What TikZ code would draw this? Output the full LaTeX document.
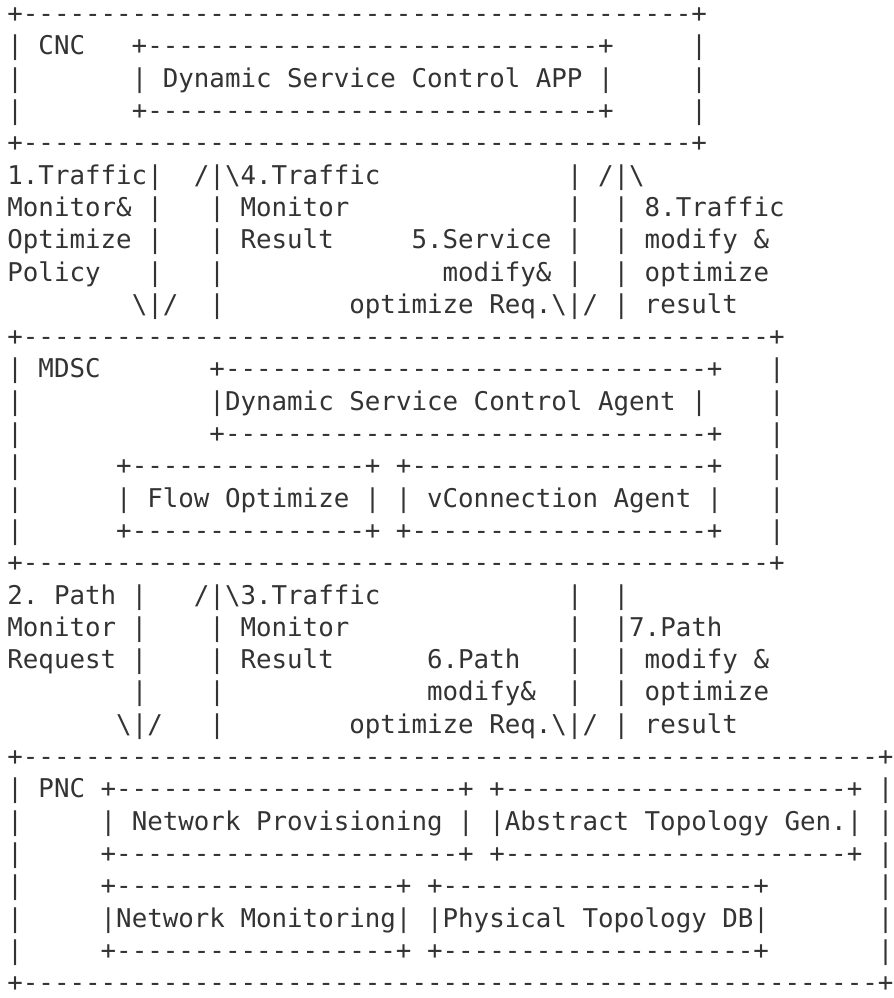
\documentclass[tikz,border=0pt]{standalone}
\usepackage{fontspec}
\setmonofont{DejaVu Sans Mono}
\definecolor{ink}{HTML}{333333}
{\obeyspaces\global\let =\space}
\newcommand\bs{\textbackslash}
\newcommand\dashrun[1]{\foreach\n in {1,...,#1}{-}}
\newcommand\pitch{16.15pt}
\newcommand\asciirow[1]{\begingroup\obeyspaces\asciirowtext{#1}}
\newcommand\asciirowtext[2]{\node[ascii] (row#1) at (3.5pt,{-11.3pt-(#1-1)*\pitch}) {\relax#2};\endgroup}
\tikzset{ascii/.style={anchor=base west, inner sep=0pt, text=ink,
    font=\ttfamily\fontsize{12.91pt}{16pt}\selectfont}}
\begin{document}
\begin{tikzpicture}
  \useasboundingbox (0,0) rectangle (447pt,-499pt);
  \asciirow{1}{+\dashrun{43}+}
  \asciirow{2}{| CNC   +\dashrun{29}+     |}
  \asciirow{3}{|       | Dynamic Service Control APP |     |}
  \asciirow{4}{|       +\dashrun{29}+     |}
  \asciirow{5}{+\dashrun{43}+}
  \asciirow{6}{1.Traffic|  /|\bs4.Traffic            | /|\bs}
  \asciirow{7}{Monitor\& |   | Monitor              |  | 8.Traffic}
  \asciirow{8}{Optimize |   | Result     5.Service |  | modify \&}
  \asciirow{9}{Policy   |   |              modify\& |  | optimize}
  \asciirow{10}{        \bs|/  |        optimize Req.\bs|/ | result}
  \asciirow{11}{+\dashrun{48}+}
  \asciirow{12}{| MDSC       +\dashrun{31}+   |}
  \asciirow{13}{|            |Dynamic Service Control Agent |    |}
  \asciirow{14}{|            +\dashrun{31}+   |}
  \asciirow{15}{|      +\dashrun{15}+ +\dashrun{19}+   |}
  \asciirow{16}{|      | Flow Optimize | | vConnection Agent |   |}
  \asciirow{17}{|      +\dashrun{15}+ +\dashrun{19}+   |}
  \asciirow{18}{+\dashrun{48}+}
  \asciirow{19}{2. Path |   /|\bs3.Traffic            |  |}
  \asciirow{20}{Monitor |    | Monitor              |  |7.Path}
  \asciirow{21}{Request |    | Result      6.Path   |  | modify \&}
  \asciirow{22}{        |    |             modify\&  |  | optimize}
  \asciirow{23}{       \bs|/   |        optimize Req.\bs|/ | result}
  \asciirow{24}{+\dashrun{55}+}
  \asciirow{25}{| PNC +\dashrun{22}+ +\dashrun{22}+ |}
  \asciirow{26}{|     | Network Provisioning | |Abstract Topology Gen.| |}
  \asciirow{27}{|     +\dashrun{22}+ +\dashrun{22}+ |}
  \asciirow{28}{|     +\dashrun{18}+ +\dashrun{20}+       |}
  \asciirow{29}{|     |Network Monitoring| |Physical Topology DB|       |}
  \asciirow{30}{|     +\dashrun{18}+ +\dashrun{20}+       |}
  \asciirow{31}{+\dashrun{55}+}
\end{tikzpicture}
\end{document}
